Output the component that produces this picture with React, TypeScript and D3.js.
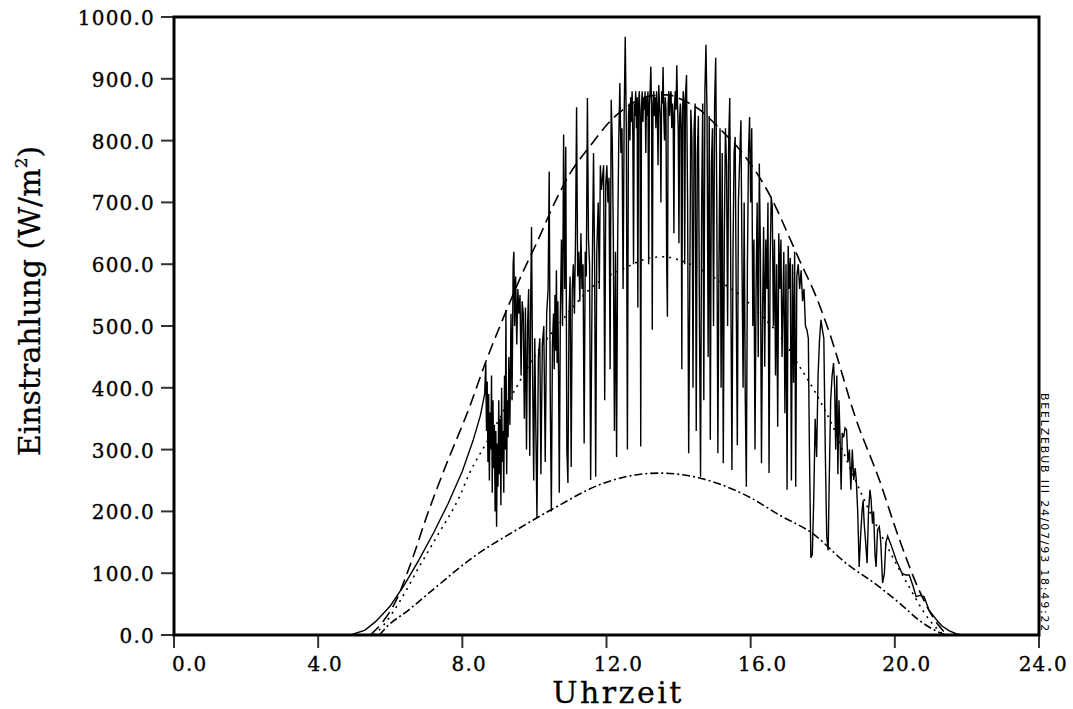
import React from 'react';
import * as d3 from 'd3';

const xTicks = [0, 4, 8, 12, 16, 20, 24];
const yTicks = [0, 100, 200, 300, 400, 500, 600, 700, 800, 900, 1000];

const xTitle = 'Uhrzeit';
const yTitle = 'Einstrahlung (W/m';
const stamp = 'BEELZEBUB III 24/07/93 18:49:22';

// long dashed curve (upper envelope)
const upperCurve: [number, number][] = [
  [5.45, 0], [5.8, 22], [6.13, 52], [6.63, 126], [7.0, 190], [7.46, 262], [8.2, 369], [8.67, 445],
  [9.23, 526], [9.67, 586], [10.06, 634], [10.6, 704], [10.97, 745], [11.53, 790], [12.08, 830],
  [12.55, 854], [13.2, 872], [13.7, 874], [14.1, 866], [14.58, 850], [15.18, 817], [15.77, 780],
  [16.6, 704], [17.07, 644], [17.35, 607], [17.82, 547], [18.18, 490], [18.93, 348], [19.57, 251],
  [20.1, 159], [20.67, 73], [21.1, 25], [21.45, 0],
];

// dotted curve
const middleCurve: [number, number][] = [
  [5.55, 0], [5.8, 15], [6.27, 55], [6.8, 110], [7.3, 160], [7.93, 225], [8.2, 262], [8.67, 311],
  [9.5, 401], [10.06, 456], [10.78, 510], [11.6, 563], [12.55, 595], [13.2, 610], [13.6, 612],
  [14.0, 607], [14.66, 590], [15.2, 570], [15.7, 550], [16.24, 520], [16.8, 485], [17.35, 435],
  [17.82, 390], [18.26, 340], [18.65, 285], [19.1, 225], [19.57, 168], [20.3, 88], [20.95, 25],
  [21.35, 0],
];

// dash-dot curve (lower)
const lowerCurve: [number, number][] = [
  [5.7, 0], [5.9, 13], [6.5, 40], [7.18, 73], [8.3, 126], [9.5, 170], [10.6, 207], [11.8, 243],
  [12.8, 259], [13.45, 262], [14.58, 254], [15.05, 246], [16.0, 222], [16.8, 194], [17.7, 165],
  [18.65, 116], [19.57, 78], [20.2, 48], [20.67, 24], [21.1, 8], [21.4, 0],
];

// measured irradiance (solid)
const measured: [number, number][] = [
  [4.9, 0], [5.3, 8], [5.6, 22], [6.0, 47], [6.4, 82], [6.8, 122], [7.2, 165], [7.6, 212], [8.0, 265],
  [8.3, 315], [8.5, 355], [8.62, 390],
  [8.65, 440], [8.67, 330], [8.69, 410], [8.71, 280], [8.73, 390], [8.75, 250], [8.77, 360], [8.79, 300],
  [8.81, 420], [8.83, 230], [8.85, 380], [8.87, 270], [8.89, 340], [8.91, 200], [8.93, 330], [8.95, 175],
  [8.97, 310], [8.99, 240], [9.01, 380], [9.03, 260], [9.05, 350], [9.07, 210], [9.09, 400], [9.11, 280],
  [9.13, 330], [9.15, 230], [9.17, 420], [9.19, 300], [9.21, 526], [9.23, 260], [9.25, 380], [9.27, 320],
  [9.29, 450],
  [9.32, 340], [9.35, 520], [9.38, 380], [9.41, 600], [9.43, 620], [9.45, 500], [9.48, 580], [9.51, 470],
  [9.54, 560], [9.57, 520], [9.6, 550], [9.63, 420], [9.66, 540], [9.69, 520], [9.72, 350], [9.75, 530],
  [9.78, 300], [9.81, 500], [9.84, 560], [9.87, 290], [9.9, 560], [9.92, 660], [9.95, 420], [9.98, 250],
  [10.01, 480], [10.04, 330],
  [10.07, 190], [10.11, 450], [10.15, 480], [10.18, 260], [10.22, 470], [10.26, 500], [10.3, 280],
  [10.34, 520], [10.38, 560], [10.41, 750], [10.44, 380], [10.47, 200], [10.5, 470],
  [10.53, 520], [10.55, 430], [10.57, 550], [10.59, 460], [10.61, 590], [10.63, 440], [10.65, 540],
  [10.67, 420], [10.69, 230], [10.72, 520], [10.75, 640], [10.78, 500], [10.81, 810], [10.84, 560],
  [10.87, 790], [10.9, 300], [10.93, 246], [10.96, 520],
  [10.99, 580], [11.02, 272], [11.05, 560], [11.08, 600], [11.11, 520], [11.14, 640], [11.17, 854],
  [11.2, 580], [11.23, 620], [11.26, 540], [11.29, 650], [11.32, 560], [11.35, 600], [11.38, 310],
  [11.41, 620], [11.44, 580], [11.47, 869], [11.5, 640],
  [11.53, 600], [11.56, 251], [11.6, 560], [11.64, 780], [11.67, 600], [11.7, 256], [11.73, 620],
  [11.77, 700], [11.8, 560], [11.83, 760], [11.86, 720], [11.89, 740], [11.92, 760], [11.95, 380],
  [11.98, 730], [12.01, 760],
  [12.04, 700], [12.07, 740], [12.1, 430], [12.13, 866], [12.16, 800], [12.19, 640], [12.22, 330],
  [12.25, 620], [12.28, 288], [12.31, 640], [12.34, 800], [12.37, 893], [12.4, 780], [12.43, 820],
  [12.46, 560], [12.49, 840], [12.52, 968],
  [12.55, 820], [12.58, 300], [12.61, 840], [12.63, 860], [12.65, 800], [12.67, 870], [12.69, 830],
  [12.71, 880], [12.73, 810], [12.75, 600], [12.77, 860], [12.79, 840], [12.81, 880], [12.83, 820],
  [12.85, 870], [12.87, 530], [12.89, 860], [12.91, 880], [12.93, 840], [12.95, 305], [12.97, 850],
  [12.99, 880], [13.01, 830], [13.03, 870], [13.05, 850], [13.07, 880], [13.09, 780], [13.11, 870],
  [13.13, 840], [13.15, 880], [13.17, 600], [13.19, 860], [13.21, 880], [13.23, 920], [13.25, 850],
  [13.27, 494], [13.29, 860],
  [13.31, 880], [13.33, 840], [13.35, 870], [13.37, 820], [13.39, 880], [13.41, 850], [13.43, 760],
  [13.45, 890], [13.47, 860], [13.49, 840], [13.51, 700], [13.53, 880], [13.55, 860], [13.57, 919],
  [13.59, 840], [13.61, 800], [13.63, 870], [13.65, 850], [13.67, 600], [13.69, 515], [13.71, 860],
  [13.73, 880], [13.75, 840], [13.77, 870], [13.79, 880], [13.81, 820], [13.83, 860], [13.85, 840],
  [13.87, 650], [13.89, 860], [13.91, 880], [13.93, 850], [13.95, 922], [13.97, 860], [13.99, 820],
  [14.01, 634], [14.03, 840], [14.05, 860], [14.07, 820], [14.09, 430], [14.11, 850], [14.13, 880],
  [14.15, 860], [14.17, 600], [14.19, 870],
  [14.22, 906], [14.25, 700], [14.28, 294], [14.31, 560], [14.34, 850], [14.37, 800], [14.4, 400],
  [14.43, 820], [14.46, 860], [14.49, 330], [14.52, 780], [14.55, 840], [14.58, 500], [14.61, 256],
  [14.64, 700], [14.67, 860], [14.7, 380], [14.73, 880], [14.76, 955], [14.79, 840], [14.82, 450],
  [14.85, 840], [14.88, 316], [14.91, 760], [14.94, 820], [14.97, 500], [15.0, 860],
  [15.03, 934], [15.06, 700], [15.09, 294], [15.12, 600], [15.15, 820], [15.18, 400], [15.21, 780],
  [15.24, 278], [15.27, 650], [15.3, 820], [15.33, 760], [15.36, 500], [15.39, 800], [15.42, 869],
  [15.45, 560], [15.48, 267], [15.51, 620], [15.54, 780], [15.57, 806], [15.6, 540], [15.63, 307],
  [15.66, 700], [15.7, 780], [15.73, 833], [15.76, 600], [15.79, 400], [15.82, 700], [15.85, 385],
  [15.88, 240], [15.91, 600], [15.94, 780], [15.97, 838],
  [16.0, 700], [16.03, 820], [16.06, 500], [16.09, 640], [16.12, 300], [16.15, 560], [16.18, 700],
  [16.21, 450], [16.24, 763], [16.27, 620], [16.3, 278], [16.33, 520], [16.36, 660], [16.39, 434],
  [16.42, 640], [16.45, 560], [16.48, 700], [16.51, 262], [16.54, 600], [16.57, 709], [16.6, 693],
  [16.63, 500], [16.66, 640], [16.69, 420], [16.72, 600], [16.75, 337], [16.78, 650], [16.81, 560],
  [16.84, 640], [16.87, 450],
  [16.92, 620], [16.95, 359], [16.98, 600], [17.01, 235], [17.04, 630], [17.07, 560], [17.1, 610],
  [17.13, 250], [17.16, 600], [17.19, 408], [17.22, 620], [17.25, 240], [17.28, 580], [17.32, 600],
  [17.36, 560], [17.4, 590], [17.44, 540], [17.48, 560], [17.52, 500], [17.56, 494], [17.6, 480],
  [17.63, 300], [17.67, 125], [17.71, 130], [17.75, 220], [17.79, 350], [17.83, 288], [17.87, 420],
  [17.91, 477], [17.95, 510], [17.99, 494], [18.03, 480], [18.07, 300], [18.11, 160], [18.15, 137],
  [18.18, 250], [18.22, 380], [18.26, 420], [18.3, 440], [18.33, 400], [18.36, 300], [18.39, 420],
  [18.42, 260], [18.45, 380], [18.48, 320], [18.51, 235], [18.54, 327], [18.58, 320], [18.62, 335],
  [18.66, 332], [18.7, 280], [18.74, 300], [18.78, 235], [18.82, 300], [18.86, 251], [18.9, 270],
  [18.93, 251], [18.97, 200], [19.01, 110], [19.05, 160], [19.09, 200], [19.12, 218], [19.15, 180],
  [19.19, 150], [19.23, 116], [19.27, 200], [19.31, 235], [19.34, 220], [19.38, 180], [19.41, 200],
  [19.45, 130], [19.48, 110], [19.52, 170], [19.57, 175], [19.61, 150], [19.66, 84], [19.71, 100],
  [19.75, 149], [19.8, 160], [19.9, 145], [20.04, 121], [20.2, 100], [20.3, 97], [20.4, 97],
  [20.5, 80], [20.59, 62], [20.7, 64], [20.81, 62], [20.95, 40], [21.15, 25], [21.3, 15], [21.5, 7],
  [21.7, 2], [21.85, 0],
];

const W = 1073;
const H = 709;
const plot = { left: 174, right: 1039, top: 17, bottom: 635 };

export default function App() {
  const x = d3.scaleLinear().domain([0, 24]).range([plot.left, plot.right]);
  const y = d3.scaleLinear().domain([0, 1000]).range([plot.bottom, plot.top]);
  const line = d3
    .line<[number, number]>()
    .x((d) => x(d[0]))
    .y((d) => y(d[1]))
    .curve(d3.curveLinear);
  const smooth = d3
    .line<[number, number]>()
    .x((d) => x(d[0]))
    .y((d) => y(d[1]))
    .curve(d3.curveMonotoneX);

  const serif = '"DejaVu Serif", serif';

  const xLabelPos = (t: number, i: number) => {
    const label = t.toFixed(1);
    if (i === 0) return { x: x(t) - 2, anchor: 'start' };
    if (i === xTicks.length - 1) return { x: 1068, anchor: 'end' };
    return { x: x(t) + (label.length === 3 ? 7 : 12), anchor: 'middle' };
  };

  return (
    <svg
      width={W}
      height={H}
      viewBox={`0 0 ${W} ${H}`}
      style={{ position: 'absolute', left: 0, top: 0, background: '#fff' }}
    >
      <rect x={0} y={0} width={W} height={H} fill="#fff" />
      {/* curves */}
      <path d={smooth(lowerCurve) || ''} fill="none" stroke="#000" strokeWidth={1.6} strokeDasharray="8 3 2 3" />
      <path d={smooth(middleCurve) || ''} fill="none" stroke="#000" strokeWidth={1.6} strokeDasharray="2 5" />
      <path d={smooth(upperCurve) || ''} fill="none" stroke="#000" strokeWidth={1.6} strokeDasharray="12 6" />
      <path d={line(measured) || ''} fill="none" stroke="#000" strokeWidth={1.4} strokeLinejoin="miter" />

      {/* y ticks */}
      {yTicks.map((t) => (
        <g key={'y' + t}>
          <line x1={plot.left - 13} x2={plot.left} y1={y(t)} y2={y(t)} stroke="#333" strokeWidth={2} />
          <text
            x={155}
            y={y(t) + 8}
            textAnchor="end"
            fontFamily={serif}
            fontSize={20}
            letterSpacing={1.2}
            fill="#000"
            stroke="#000"
            strokeWidth={0.35}
          >
            {t.toFixed(1)}
          </text>
        </g>
      ))}
      {/* x ticks */}
      {xTicks.map((t, i) => {
        const p = xLabelPos(t, i);
        return (
          <g key={'x' + t}>
            <line x1={x(t)} x2={x(t)} y1={plot.bottom} y2={plot.bottom + 13} stroke="#333" strokeWidth={2} />
            <text
              x={p.x}
              y={671}
              textAnchor={p.anchor as any}
              fontFamily={serif}
              fontSize={20}
              letterSpacing={1.2}
              fill="#000"
              stroke="#000"
              strokeWidth={0.35}
            >
              {t.toFixed(1)}
            </text>
          </g>
        );
      })}

      {/* frame */}
      <rect
        x={plot.left}
        y={plot.top}
        width={plot.right - plot.left}
        height={plot.bottom - plot.top}
        fill="none"
        stroke="#000"
        strokeWidth={3}
      />

      {/* axis titles */}
      <text
        x={618}
        y={703}
        textAnchor="middle"
        fontFamily={serif}
        fontSize={30}
        letterSpacing={2.5}
        fill="#000"
        stroke="#000"
        strokeWidth={0.3}
      >
        {xTitle}
      </text>
      <text
        transform="translate(40,301) rotate(-90)"
        textAnchor="middle"
        fontFamily={serif}
        fontSize={30}
        fill="#000"
        stroke="#000"
        strokeWidth={0.3}
      >
        {yTitle}
        <tspan fontSize={17} dy={-13}>2</tspan>
        <tspan dy={13}>)</tspan>
      </text>

      {/* stamp */}
      <text
        transform="translate(1041,393) rotate(90)"
        fontFamily='"DejaVu Sans", sans-serif'
        fontSize={11}
        letterSpacing={1.8}
        fill="#000"
      >
        {stamp}
      </text>
    </svg>
  );
}
